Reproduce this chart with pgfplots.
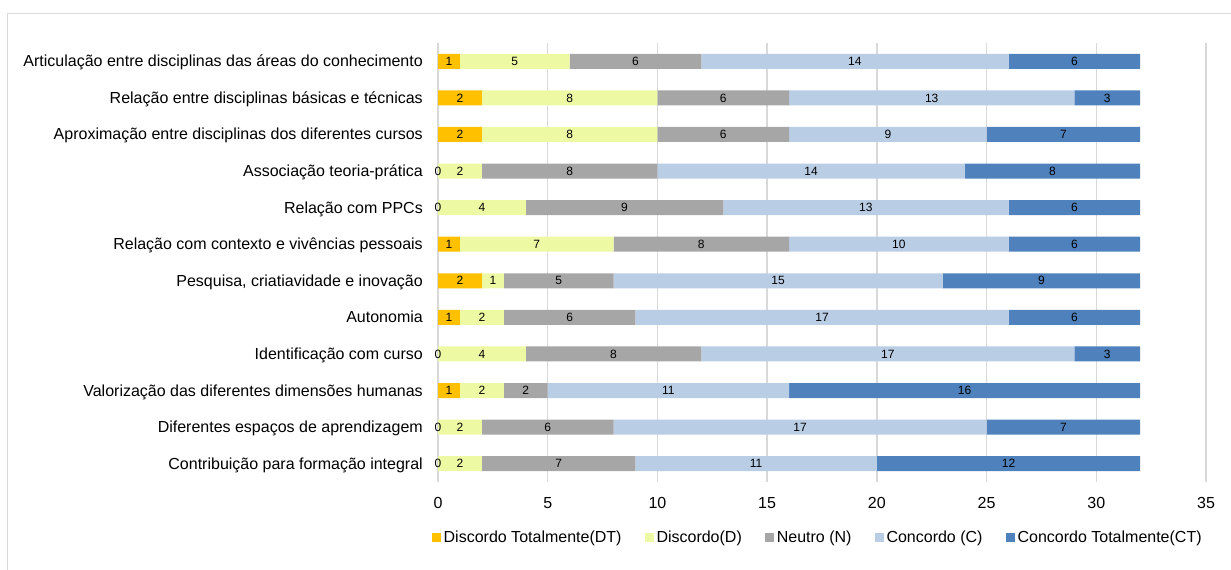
\documentclass[border=0pt]{standalone}
\usepackage{pgfplots}
\pgfplotsset{compat=1.18}
\usepackage{pgfplotstable}
\usepackage{fontspec}
\setmainfont{Liberation Sans}

\definecolor{cDT}{HTML}{FFC000}
\definecolor{cD}{HTML}{EEF9A4}
\definecolor{cN}{HTML}{A6A6A6}
\definecolor{cC}{HTML}{B9CDE5}
\definecolor{cCT}{HTML}{4F81BD}
\definecolor{gridc}{HTML}{D9D9D9}
\definecolor{framec}{HTML}{D9D9D9}

% Respostas por item (DT, D, N, C, CT), de cima para baixo
\pgfplotstableread{
id DT D N C CT
0  1  5  6  14  6
1  2  8  6  13  3
2  2  8  6   9  7
3  0  2  8  14  8
4  0  4  9  13  6
5  1  7  8  10  6
6  2  1  5  15  9
7  1  2  6  17  6
8  0  4  8  17  3
9  1  2  2  11 16
10 0  2  6  17  7
11 0  2  7  11 12
}\survey

\pgfplotsset{
  panel/.style={
    scale only axis, width=768pt, height=439pt,
    at={(438pt,88pt)}, anchor=south west,
    xmin=0, xmax=35, ymin=-0.5, ymax=11.5, y dir=reverse,
    /pgf/number format/assume math mode=true,
  },
  seglabel/.style={
    only marks, mark=none, nodes near coords, point meta=explicit,
    nodes near coords align={center},
    every node near coord/.append style={font=\fontsize{12}{14}\selectfont, text=black, inner sep=0pt},
  },
}

\begin{document}
\begin{tikzpicture}[x=1pt,y=1pt]
\useasboundingbox (0,0) rectangle (1231,570);
\draw[framec, line width=1pt] (7,-20) -- (7,556) -- (1260,556);

\begin{axis}[panel,
  xbar stacked, bar width=15pt,
  xtick={0,5,...,35},
  ytick={0,...,11},
  yticklabels={
    Articulação entre disciplinas das áreas do conhecimento,
    Relação entre disciplinas básicas e técnicas,
    Aproximação entre disciplinas dos diferentes cursos,
    Associação teoria-prática,
    Relação com PPCs,
    Relação com contexto e vivências pessoais,
    {Pesquisa, criatiavidade e inovação},
    Autonomia,
    Identificação com curso,
    Valorização das diferentes dimensões humanas,
    Diferentes espaços de aprendizagem,
    Contribuição para formação integral},
  axis line style={draw=none},
  major tick length=0pt,
  xmajorgrids,
  grid style={gridc, line width=1.3pt},
  tick label style={font=\fontsize{16}{19}\selectfont},
  xticklabel style={anchor=center, yshift=-21pt},
  yticklabel style={anchor=base east, inner sep=0pt, xshift=-15pt, yshift=-5.5pt},
  legend columns=5,
  legend image code/.code={\fill[#1] (0pt,-4.5pt) rectangle (9pt,4.5pt);},
  legend style={at={(0.495,-0.1253)}, anchor=center, draw=none,
    font=\fontsize{16}{19}\selectfont,
    nodes={inner sep=2.5pt},
    /tikz/every even column/.append style={column sep=21pt}},
]
\addplot[fill=cDT, draw=none] table[x=DT, y=id] {\survey};
\addplot[fill=cD,  draw=none] table[x=D,  y=id] {\survey};
\addplot[fill=cN,  draw=none] table[x=N,  y=id] {\survey};
\addplot[fill=cC,  draw=none] table[x=C,  y=id] {\survey};
\addplot[fill=cCT, draw=none] table[x=CT, y=id] {\survey};
\legend{Discordo Totalmente(DT), Discordo(D), Neutro (N), Concordo (C), Concordo Totalmente(CT)}
\end{axis}

% rótulos no centro de cada segmento
\begin{axis}[panel, hide axis]
\addplot[seglabel] table[x expr=\thisrow{DT}/2, y=id, meta=DT] {\survey};
\addplot[seglabel] table[x expr=\thisrow{DT}+\thisrow{D}/2, y=id, meta=D] {\survey};
\addplot[seglabel] table[x expr=\thisrow{DT}+\thisrow{D}+\thisrow{N}/2, y=id, meta=N] {\survey};
\addplot[seglabel] table[x expr=\thisrow{DT}+\thisrow{D}+\thisrow{N}+\thisrow{C}/2, y=id, meta=C] {\survey};
\addplot[seglabel] table[x expr=\thisrow{DT}+\thisrow{D}+\thisrow{N}+\thisrow{C}+\thisrow{CT}/2, y=id, meta=CT] {\survey};
\end{axis}
\end{tikzpicture}
\end{document}
